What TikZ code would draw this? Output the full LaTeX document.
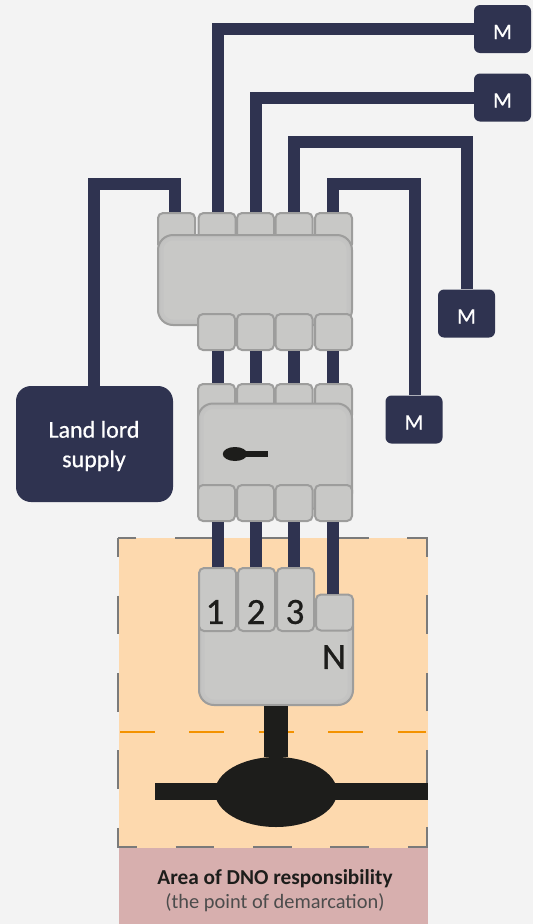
\documentclass[tikz,border=0pt]{standalone}
\usepackage{fontspec}
\setmainfont{Carlito}
\newfontfamily\mediumfont[FakeBold=0.7]{Carlito}
\usepackage{xcolor}
\usepackage{tikz}
\usetikzlibrary{calc}
\usetikzlibrary{shapes.geometric}

\definecolor{navy}{HTML}{2F3350}
\definecolor{sheet}{HTML}{F3F3F3}
\definecolor{peach}{HTML}{FDD9AE}
\definecolor{rose}{HTML}{D7AFAE}
\definecolor{metal}{HTML}{C8C8C6}
\definecolor{rim}{HTML}{9D9D9C}
\definecolor{soot}{HTML}{1D1D1B}
\definecolor{dashgrey}{HTML}{7A7A7A}
\definecolor{amber}{HTML}{F39200}

\tikzset{
	wire/.style={draw=navy,line width=12pt},
	cable/.style={draw=soot},
	bodybox/.style={draw=rim,fill=metal,line width=2pt,rounded corners=15pt,inner sep=0pt,
		path picture={
			\draw [rim,opacity=.07,line width=5pt,rounded corners=15pt] (path picture bounding box.south west) rectangle (path picture bounding box.north east);
			\draw [rim,opacity=.07,line width=11pt,rounded corners=15pt] (path picture bounding box.south west) rectangle (path picture bounding box.north east);
		}},
	termbox/.style={draw=rim,fill=metal,line width=2pt,rounded corners=5pt,inner sep=0pt,minimum width=37pt,minimum height=36pt},
	meterbox/.style={fill=navy,rounded corners=6pt,text=white,inner sep=0pt,minimum width=57pt,minimum height=48pt,text height=20pt,font=\mediumfont\fontsize{22}{26}\selectfont},
	digit/.style={text=soot,inner sep=0pt,font=\mediumfont\fontsize{37}{40}\selectfont}
}

\begin{document}
\begin{tikzpicture}[x=1pt,y=-1pt]
	
	\useasboundingbox [fill=sheet] (0,0) rectangle (533,924);
	
	\fill [peach] (119,538) rectangle (428,848);
	
	\fill [rose] (119,848) rectangle (428,924);
	
	\draw [dashgrey,line width=2pt,dash pattern=on 38.7pt off 38.7pt,dash phase=19.35pt] (117.5,537.5) rectangle (427,847);
	
	\draw [amber,line width=2pt,dash pattern=on 35pt off 34.4pt] (120,732) -- (426,732);
	
	\foreach \n/\x in {A/218,B/256,C/294,D/333} {
		\coordinate (col\n) at (\x,0);
	}
	
	% henley block
	\foreach \n/\x in {L/176.5,A/217,B/255.5,C/294,D/333.5} {
		\node [termbox] (hbT\n) at (\x,231) {};
	}
	
	\node [bodybox,minimum width=194pt,minimum height=90pt] (hbBody) at (255,280) {};
	
	\foreach \n/\x in {A/216.5,B/255.5,C/294,D/333.5} {
		\node [termbox] (hbB\n) at (\x,332) {};
	}
	
	% isolator
	\foreach \n/\x in {A/216.5,B/255.5,C/294,D/333.5} {
		\node [termbox] (isoT\n) at (\x,402) {};
	}
	
	\node [bodybox,minimum width=154pt,minimum height=105pt] (isoBody) at (275,456) {};
	
	\foreach \n/\x in {A/216.5,B/255.5,C/294,D/333.5} {
		\node [termbox] (isoB\n) at (\x,503) {};
	}
	
	\node [ellipse,fill=soot,inner sep=0pt,minimum width=24.5pt,minimum height=14pt] (keyHead) at (235,454) {};
	
	\coordinate (keyEnd) at (268,454);
	
	\draw [cable,line width=6pt] (keyHead.center) -- (keyEnd);
	
	% cut-out
	\node [bodybox,minimum width=154pt,minimum height=94pt] (cutBody) at (276,658) {};
	
	\node [termbox,minimum height=63pt] (cutA) at (217.5,599.5) {};
	
	\node [termbox,minimum height=63pt] (cutB) at (256.5,599.5) {};
	
	\node [termbox,minimum height=63pt] (cutC) at (295.5,599.5) {};
	
	\node [termbox] (cutD) at (334.5,612.5) {};
	
	\node [digit] (numA) at (215,612) {1};
	
	\node [digit] (numB) at (256,612) {2};
	
	\node [digit] (numC) at (295,612) {3};
	
	\node [digit] (numN) at (334,657) {N};
	
	% supply and meters
	\node [fill=navy,rounded corners=15pt,inner sep=0pt,minimum width=157pt,minimum height=116pt] (landlord) at (94.5,444) {};
	
	\node [text=white,inner sep=0pt,align=center,font=\mediumfont\fontsize{24}{29.5}\selectfont] (landlordName) at (94,446) {Land lord\\supply};
	
	\node [meterbox] (meterA) at (502.5,29) {M};
	
	\node [meterbox] (meterB) at (502.5,97.5) {M};
	
	\node [meterbox] (meterC) at (466.5,313.5) {M};
	
	\node [meterbox] (meterD) at (414,419.5) {M};
	
	\coordinate (bendL) at (175,184);
	
	\coordinate (bendC) at (466.5,142);
	
	\coordinate (bendD) at (415,184);
	
	% wires
	\draw [wire] ([xshift=-.5pt]landlord.north) |- (bendL) -- (bendL |- hbTL.north);
	
	\draw [wire] (colA |- hbTA.north) |- (meterA.west);
	
	\draw [wire] (colB |- hbTB.north) |- (meterB.west);
	
	\draw [wire] (colC |- hbTC.north) |- (bendC) -- (meterC.north);
	
	\draw [wire] (colD |- hbTD.north) |- (bendD) -- (bendD |- meterD.north);
	
	\foreach \n in {A,B,C,D} {
		\draw [wire] (col\n |- hbB\n.south) -- (col\n |- isoT\n.north);
		\draw [wire] (col\n |- isoB\n.south) -- (col\n |- cut\n.north);
	}
	
	% service cable
	\node [ellipse,fill=soot,inner sep=0pt,minimum width=122pt,minimum height=70pt] (joint) at (276,792) {};
	
	\coordinate (cableW) at (155,791.5);
	
	\coordinate (cableE) at (428,791.5);
	
	\draw [cable,line width=24pt] (cutBody.south) -- (joint.north);
	
	\draw [cable,line width=17pt] (cableW) -- (cableE);
	
	\node [text=soot,inner sep=0pt,font=\fontsize{21.3}{25}\bfseries] (areaName) at (275,879) {Area of DNO responsibility};
	
	\node [text=black!70,inner sep=0pt,font=\fontsize{20.4}{25}\selectfont] (areaNote) at (275,903) {(the point of demarcation)};
	
\end{tikzpicture}
\end{document}
